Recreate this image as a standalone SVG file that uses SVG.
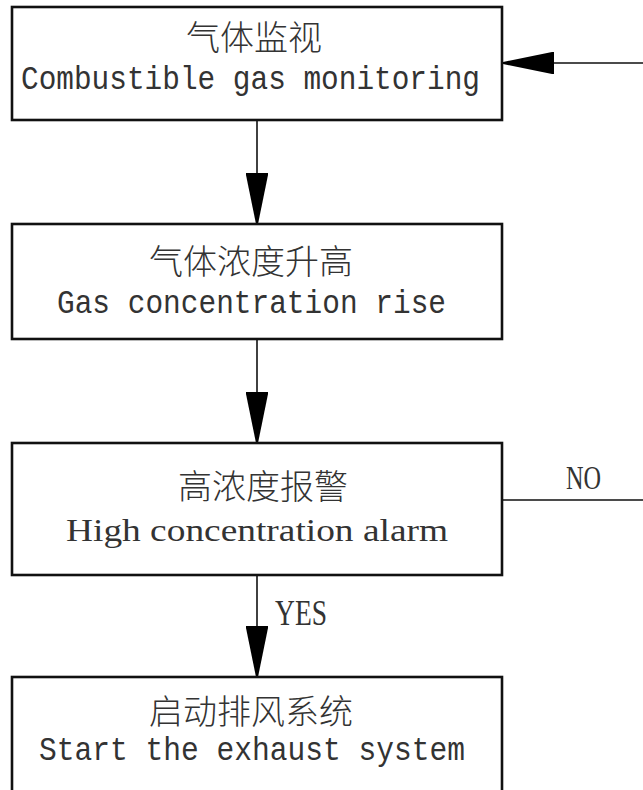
<svg xmlns="http://www.w3.org/2000/svg" width="643" height="790" viewBox="0 0 643 790">
<style>
.box{fill:#fff;stroke:#111;stroke-width:2.6}
.conn{fill:none;stroke:#111;stroke-width:1.6}
.cn{font-family:"Noto Sans CJK SC",sans-serif;font-size:34px;font-weight:300;fill:#333;text-anchor:middle}
.mono{font-family:"Liberation Mono",monospace;font-size:34px;fill:#333}
.serif{font-family:"Liberation Serif",serif;fill:#333}
.lbl{font-family:"Liberation Serif",serif;fill:#333}
</style>
<defs>
<marker id="arr" markerUnits="userSpaceOnUse" markerWidth="52" markerHeight="22" refX="51" refY="11" orient="auto" viewBox="0 0 52 22">
<polygon points="0,0 2,0 51,10 51,12 2,22 0,22" fill="#000"/>
</marker>
</defs>
<rect width="643" height="790" fill="#fff"/>
<g id="connectors">
<line class="conn" x1="257" y1="120" x2="257" y2="224" marker-end="url(#arr)"/>
<line class="conn" x1="257" y1="339" x2="257" y2="443" marker-end="url(#arr)"/>
<line class="conn" x1="257" y1="575" x2="257" y2="677" marker-end="url(#arr)"/>
<path class="conn" d="M502,500 H660 V63 H503" marker-end="url(#arr)"/>
<text class="lbl" x="566" y="489" font-size="33" textLength="35" lengthAdjust="spacingAndGlyphs">NO</text>
<text class="lbl" x="275" y="625" font-size="35" textLength="52" lengthAdjust="spacingAndGlyphs">YES</text>
</g>
<g id="node1">
<rect class="box" x="12" y="7" width="490" height="113"/>
<text class="cn" x="254" y="50">气体监视</text>
<text class="mono" x="21" y="89" textLength="459" lengthAdjust="spacingAndGlyphs">Combustible gas monitoring</text>
</g>
<g id="node2">
<rect class="box" x="12" y="224" width="490" height="115"/>
<text class="cn" x="251" y="274">气体浓度升高</text>
<text class="mono" x="57" y="313" textLength="389" lengthAdjust="spacingAndGlyphs">Gas concentration rise</text>
</g>
<g id="node3">
<rect class="box" x="12" y="443" width="490" height="132"/>
<text class="cn" x="263" y="499">高浓度报警</text>
<text class="serif" x="66" y="541" font-size="32" textLength="382" lengthAdjust="spacingAndGlyphs">High concentration alarm</text>
</g>
<g id="node4">
<rect class="box" x="12" y="677" width="490" height="120"/>
<text class="cn" x="251" y="724">启动排风系统</text>
<text class="mono" x="39" y="760" textLength="426" lengthAdjust="spacingAndGlyphs">Start the exhaust system</text>
</g>
</svg>
